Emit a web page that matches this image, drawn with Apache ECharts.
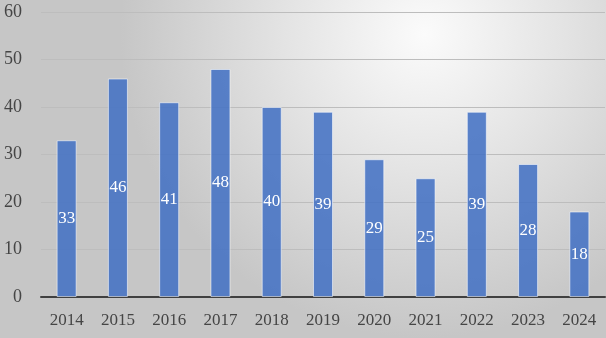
<!DOCTYPE html>
<html><head><meta charset="utf-8">
<script src="https://cdn.jsdelivr.net/npm/echarts@6/dist/echarts.min.js"></script>
<style>html,body{margin:0;padding:0;}#c{width:606px;height:338px;}</style>
</head><body><div id="c"></div>
<script>
const categories = ['2014','2015','2016','2017','2018','2019','2020','2021','2022','2023','2024'];
const values = [33,46,41,48,40,39,29,25,39,28,18];
const yTicks = [0,10,20,30,40,50,60];

const chart = echarts.init(document.getElementById('c'));
chart.setOption({
  animation: false,
  backgroundColor: {
    type: 'radial', x: 0.7, y: 0.1, r: 0.9,
    colorStops: [
      {offset: 0, color: '#fbfbfb'},
      {offset: 0.45, color: '#e4e4e4'},
      {offset: 1, color: '#c6c6c6'}
    ]
  },
  grid: {left: 41, right: 1, top: 12, bottom: 41, containLabel: false},
  xAxis: {
    type: 'category', data: categories,
    axisLine: {lineStyle: {color: '#404040', width: 2}},
    axisTick: {show: false},
    axisLabel: {color: '#454545', fontFamily: 'Liberation Serif', fontSize: 17, margin: 15}
  },
  yAxis: {
    type: 'value', min: yTicks[0], max: yTicks[yTicks.length-1], interval: 10,
    axisLine: {show: false}, axisTick: {show: false},
    axisLabel: {color: '#454545', fontFamily: 'Liberation Serif', fontSize: 18, margin: 19},
    splitLine: {lineStyle: {color: '#bdbdbd', width: 1}}
  },
  series: [{
    type: 'bar', data: values, barWidth: 20,
    itemStyle: {color: 'rgba(68,114,196,0.88)', borderColor: 'rgba(255,255,255,0.55)', borderWidth: 1},
    label: {show: true, position: 'inside', color: '#ffffff', fontFamily: 'Liberation Serif', fontSize: 17}
  }]
});
</script></body></html>
